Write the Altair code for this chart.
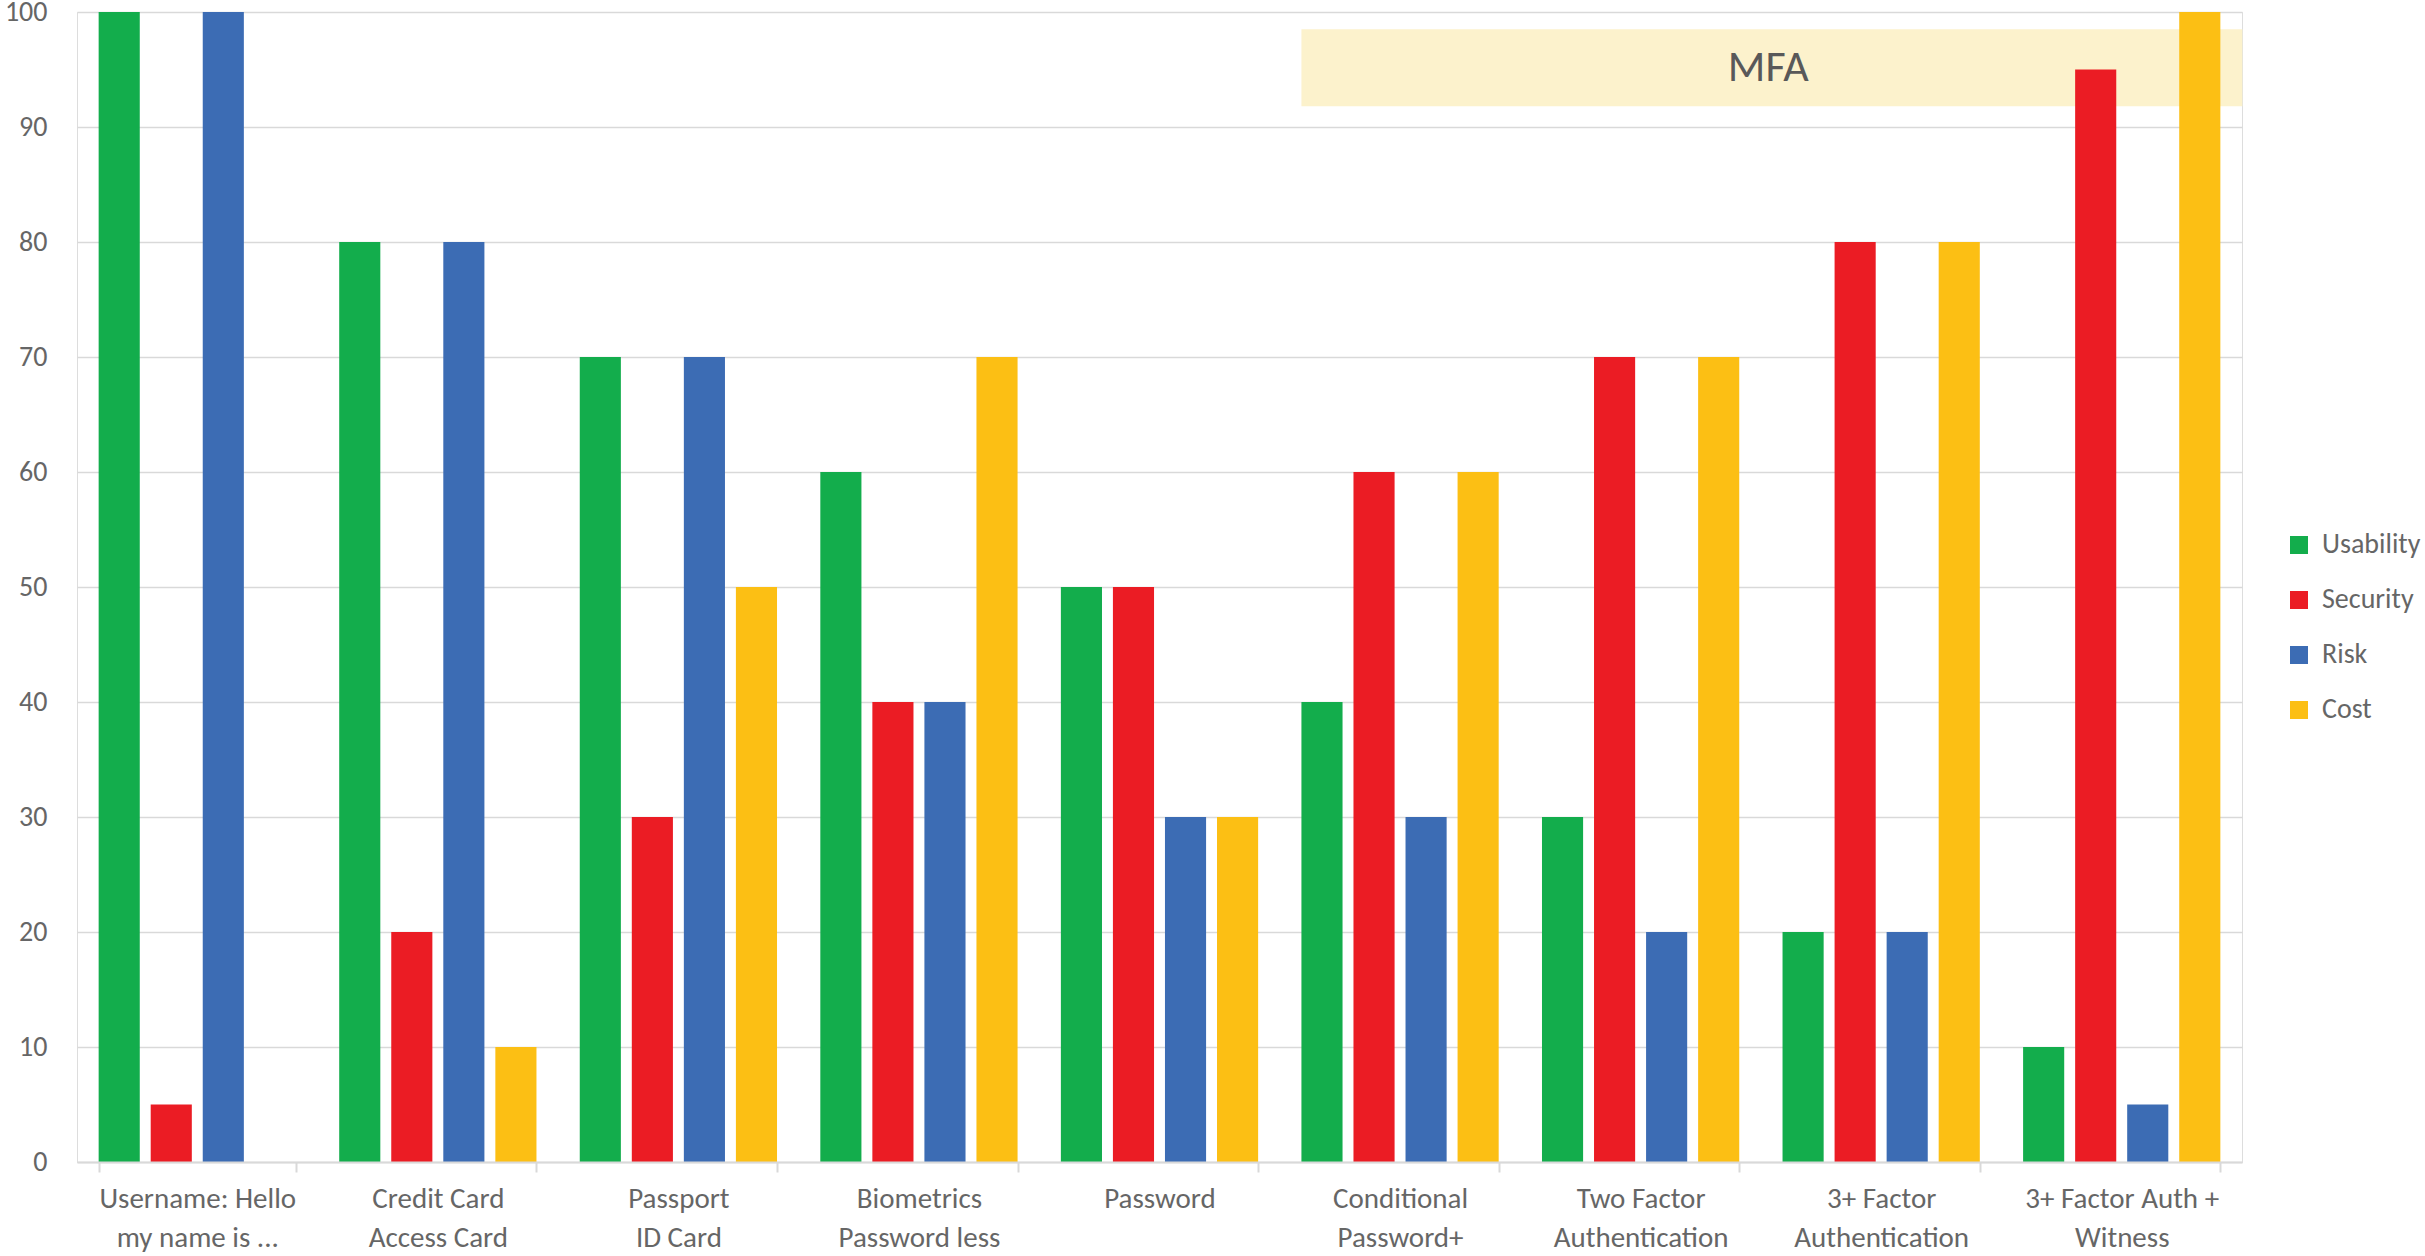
import altair as alt
import pandas as pd

categories = [
    "Username: Hello|my name is ...",
    "Credit Card|Access Card",
    "Passport|ID Card",
    "Biometrics|Password less",
    "Password",
    "Conditional|Password+",
    "Two Factor|Authentication",
    "3+ Factor|Authentication",
    "3+ Factor Auth +|Witness",
]
series = ["Usability", "Security", "Risk", "Cost"]
usability = [100, 80, 70, 60, 50, 40, 30, 20, 10]
security = [5, 20, 30, 40, 50, 60, 70, 80, 95]
risk = [100, 80, 70, 40, 30, 30, 20, 20, 5]
cost = [None, 10, 50, 70, 30, 60, 70, 80, 100]
colors = ["#13AD4C", "#EB1C24", "#3C6CB4", "#FCBF14"]
y_ticks = list(range(0, 101, 10))
mfa_label = "MFA"
mfa_low, mfa_high = 91.8, 98.5

FONT = "Liberation Sans Narrow, Carlito, Roboto Condensed, Lato, Liberation Sans, sans-serif"
GRAY = "#666666"

rows = []
for i, c in enumerate(categories):
    for s, vals in zip(series, [usability, security, risk, cost]):
        if vals[i] is not None:
            rows.append({"category": c, "series": s, "value": vals[i]})
df = pd.DataFrame(rows)

mfa_df = pd.DataFrame({
    "start": [categories[5]], "end": [categories[8]], "mid": [categories[6]],
    "y": [mfa_low], "y2": [mfa_high], "ym": [(mfa_low + mfa_high) / 2], "label": [mfa_label],
})

xscale = alt.Scale(domain=categories, paddingInner=0.18, paddingOuter=0.09)
xaxis = alt.Axis(
    title=None, labelAngle=0, labelExpr="split(datum.label, '|')",
    tickBand="extent", ticks=True, tickSize=10, tickColor="#D9D9D9", tickWidth=2,
    domainColor="#D9D9D9", domainWidth=2, grid=False,
    labelFont=FONT, labelFontSize=29, labelColor=GRAY, labelLineHeight=39,
    labelPadding=12, labelBaseline="top", labelLimit=0, labelOverlap=False,
)
yaxis = alt.Axis(
    title=None, values=y_ticks, domain=False, ticks=False, grid=True,
    gridColor="#D9D9D9", gridWidth=1.5, labelFont=FONT, labelFontSize=28,
    labelColor=GRAY, labelPadding=30,
)

box = alt.Chart(mfa_df).mark_rect(color="#FCF2CC", x2Offset=22).encode(
    x=alt.X("start:N", bandPosition=0, scale=xscale, axis=xaxis),
    x2=alt.X2("end:N", bandPosition=1),
    y=alt.Y("y:Q", scale=alt.Scale(domain=[0, 100]), axis=yaxis),
    y2="y2:Q",
)

txt = alt.Chart(mfa_df).mark_text(
    font=FONT, fontSize=44, color="#595959", baseline="middle", align="center", dx=29
).encode(
    x=alt.X("mid:N", bandPosition=1, scale=xscale, axis=xaxis),
    y=alt.Y("ym:Q", scale=alt.Scale(domain=[0, 100]), axis=yaxis),
    text="label:N",
)

bars = alt.Chart(df).mark_bar().encode(
    x=alt.X("category:N", sort=categories, scale=xscale, axis=xaxis),
    xOffset=alt.XOffset("series:N", sort=series,
                        scale=alt.Scale(domain=series, paddingInner=0.21, paddingOuter=0)),
    y=alt.Y("value:Q", scale=alt.Scale(domain=[0, 100]), axis=yaxis),
    color=alt.Color(
        "series:N", sort=series, scale=alt.Scale(domain=series, range=colors),
        legend=alt.Legend(
            title=None, orient="none", legendX=2208, legendY=519,
            symbolType="square", symbolSize=324, symbolStrokeWidth=0,
            labelFont=FONT, labelFontSize=28, labelColor=GRAY,
            rowPadding=27, labelOffset=9,
        ),
    ),
)

chart = alt.layer(box, bars, txt).properties(
    width=2165, height=1150,
    autosize=alt.AutoSizeParams(type="none"),
    padding={"left": 77, "top": 12, "right": 183, "bottom": 94},
).configure_view(stroke=None).configure(background="white")

chart.save("out.html", embed_options={"renderer": "svg", "actions": False})
